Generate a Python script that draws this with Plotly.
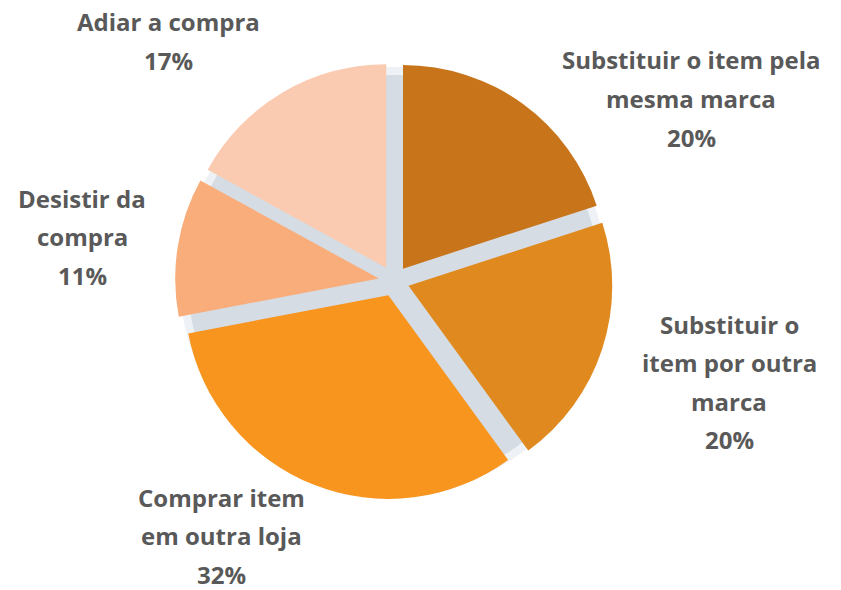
import plotly.graph_objects as go

# Survey answers, clockwise from 12 o'clock
categories = [
    "Substituir o item pela<br>mesma marca",
    "Substituir o<br>item por outra<br>marca",
    "Comprar item<br>em outra loja",
    "Desistir da<br>compra",
    "Adiar a compra",
]
shares = [20, 20, 32, 11, 17]
colors = ["#C8741A", "#E0891E", "#F7951F", "#F8AD7A", "#FBCBB1"]

W, H = 841, 590
CX, CY = 394, 281          # pie centre in pixels (from top-left)
R_TOTAL = 219              # radius including pull
PULL = 0.075

# label anchors: (centre x px, first-line y px)
label_pos = [(691, 60), (729, 324), (222, 497), (82, 198), (168, 22)]
LINE_STEP = 38.5

fig = go.Figure()

fig.add_trace(go.Pie(
    values=shares,
    labels=[c.replace("<br>", " ") for c in categories],
    sort=False,
    direction="clockwise",
    rotation=0,
    pull=[PULL] * len(shares),
    marker=dict(colors=colors, line=dict(width=0)),
    textinfo="none",
    hoverinfo="label+percent",
    showlegend=False,
    domain=dict(x=[(CX - R_TOTAL) / W, (CX + R_TOTAL) / W],
                y=[(H - CY - R_TOTAL) / H, (H - CY + R_TOTAL) / H]),
))

# soft halo and grey disc visible through the gaps between slices
for r_bg, col in [(214, "#EEF1F5"), (206, "#D5DCE4")]:
    fig.add_shape(type="circle", xref="paper", yref="paper", layer="below",
                  x0=(CX - r_bg) / W, x1=(CX + r_bg) / W,
                  y0=(H - CY - r_bg) / H, y1=(H - CY + r_bg) / H,
                  fillcolor=col, line=dict(width=0))

annotations = []
for cat, val, (lx, ly) in zip(categories, shares, label_pos):
    lines = cat.split("<br>") + [f"{val}%"]
    for i, line in enumerate(lines):
        y = ly + i * LINE_STEP
        annotations.append(dict(
            text=f"<b>{line}</b>", x=lx / W, y=1 - y / H,
            xref="paper", yref="paper", showarrow=False,
            xanchor="center", yanchor="middle",
            font=dict(family="Open Sans", size=24, color="#595959"),
        ))

fig.update_layout(
    width=W, height=H,
    margin=dict(l=0, r=0, t=0, b=0),
    paper_bgcolor="white",
    plot_bgcolor="white",
    annotations=annotations,
)

fig.write_html("out.html")
